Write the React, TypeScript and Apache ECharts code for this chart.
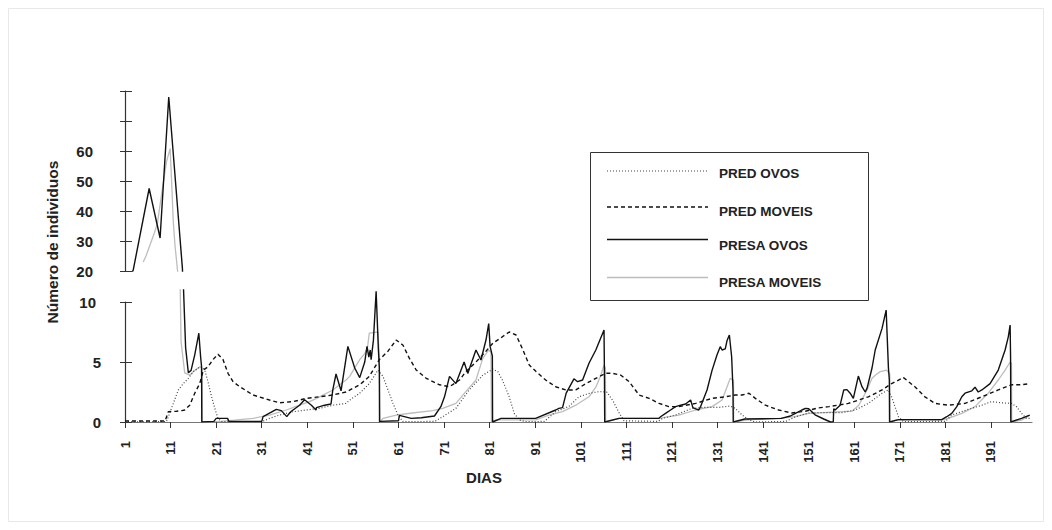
import React, { useEffect, useRef } from "react";
import * as echarts from "echarts";

// ---- data (day, value) ----
const DAYS: string[] = Array.from({ length: 200 }, (_, i) => String(i + 1));

const PRED_OVOS: number[][] = [
  [1, 0], [10.1, 0.03], [11.6, 1.55], [12.7, 2.67], [13.8, 3.2], [14.9, 3.64], [16, 4.2], [17.1, 4.5], [17.8, 4.6],
  [18.5, 4.33], [19.2, 3.36], [20, 2.1], [20.7, 1.14], [21.4, 0.3], [22.2, 0.03], [31, 0.03], [32.7, 0.3], [34.9, 0.58],
  [37.9, 0.86], [40.8, 1.0], [43.7, 1.14], [46.6, 1.4], [49.5, 1.55], [50.3, 1.83], [52.5, 2.4], [54.6, 3.2], [56.5, 4.33],
  [57.6, 3.8], [58.7, 2.67], [59.8, 1.55], [60.9, 0.58], [62, 0.03], [69, 0.05], [70.7, 0.44], [73.6, 1.14], [76.5, 2.67],
  [79.5, 3.9], [81.7, 4.4], [82.8, 4.2], [83.8, 3.5], [85.3, 2.1], [86.4, 0.72], [87.5, 0.17], [89, 0.03], [93, 0.05],
  [95.5, 0.86], [98.4, 1.3], [100.6, 2.1], [103, 2.4], [105, 2.53], [106.7, 2.5], [108, 1.8], [109.5, 0.7], [110.5, 0.1],
  [118, 0.05], [118.9, 0.3], [121.8, 0.58], [125.4, 1.14], [128.4, 1.22], [131.3, 1.22], [133.8, 1.33], [134.9, 1.14],
  [136.4, 0.58], [137.9, 0.17], [139.3, 0], [146, 0.05], [148.1, 0.44], [151, 0.75], [154.6, 0.78], [158.3, 0.78],
  [161.2, 1.0], [164.1, 1.55], [167.1, 2.4], [168.5, 2.67], [169.2, 2.1], [170.7, 0.44], [171.8, 0.03], [181, 0.05],
  [182.4, 0.58], [186, 1.05], [189, 1.4], [191.1, 1.7], [193.3, 1.6], [195.5, 1.55], [196.6, 1.28], [197.7, 0.72],
  [198.8, 0.3], [199.5, 0.3],
];

const PRED_MOVEIS: number[][] = [
  [1, 0.08], [9.8, 0.08], [10.5, 0.86], [12.3, 0.9], [13.5, 0.95], [14.1, 1.0], [15.2, 1.4], [16.3, 2.4], [17.4, 3.2],
  [18.2, 4.33], [19.2, 4.6], [20.3, 5.2], [21.4, 5.65], [22.5, 5.2], [23.6, 4.06], [24.7, 3.36], [26.2, 2.94], [29.1, 2.25],
  [32.7, 1.83], [34.9, 1.6], [37.9, 1.7], [40.8, 1.97], [43.7, 2.1], [46.6, 2.25], [49.5, 2.5], [52.5, 3.1], [54.6, 3.8],
  [56.8, 5.2], [58.7, 5.9], [60.5, 6.83], [62, 6.4], [63.4, 5.3], [64.9, 4.33], [67.1, 3.64], [70, 3.1], [72.2, 2.94],
  [74.4, 3.5], [75.8, 4.2], [78, 5.0], [80.2, 5.9], [81.7, 6.56], [83.8, 7.1], [85.3, 7.5], [86.8, 7.25], [88.2, 6.1],
  [89.7, 4.75], [91.2, 4.2], [93.3, 3.5], [95.5, 2.94], [97.7, 2.67], [99.9, 2.67], [102.1, 3.2], [104.3, 3.64],
  [106.5, 4.06], [107.9, 4.06], [109.8, 3.9], [111.6, 3.36], [113.8, 2.25], [116, 1.97], [118.2, 1.55], [120.3, 1.28],
  [122.5, 1.28], [126.2, 1.55], [129.8, 1.97], [132.7, 2.1], [134.9, 2.25], [136.4, 2.25], [137.9, 2.4], [139.3, 1.97],
  [141.5, 1.4], [144.4, 1.0], [147.3, 0.75], [150.3, 0.9], [153, 1.17], [155.4, 1.28], [159.7, 1.55], [164.1, 2.1],
  [167.1, 2.67], [169.2, 3.2], [171.8, 3.7], [174.3, 2.94], [176.5, 2.1], [178.7, 1.55], [181.6, 1.4], [185.3, 1.55],
  [189, 2.1], [192.6, 2.67], [195.5, 3.1], [197.7, 3.1], [199.5, 3.2],
];

const PRESA_OVOS: number[][] = [
  [2.5, 19.3], [2.8, 20.3], [6.3, 47.5], [8.7, 31], [10.6, 78], [13.6, 20.8], [13.8, 11.5], [14.3, 6.2], [14.9, 4.1],
  [15.5, 4.3], [16.3, 5.6], [17.2, 7.4], [17.6, 5.4], [17.8, 4.6], [17.85, 0], [20.5, 0.05], [21, 0.3], [23.5, 0.3],
  [23.8, 0.05], [31, 0.05], [31.3, 0.45], [33, 0.8], [34.2, 1.05], [35.3, 0.95], [36.5, 0.45], [36.8, 0.6], [37.5, 0.9],
  [39.3, 1.4], [40.4, 1.85], [41.9, 1.4], [42.9, 1.0], [43, 1.2], [44.8, 1.4], [46.2, 1.5], [46.6, 2.7], [47.3, 4.0],
  [48.4, 2.6], [49.9, 6.3], [51.4, 4.5], [52.5, 3.7], [53.6, 5.0], [54.1, 6.3], [54.5, 5.4], [54.8, 6.0], [55.0, 5.2],
  [55.5, 6.8], [56.1, 10.9], [56.6, 6.0], [56.8, 4.5], [56.85, 0], [57, 0.05], [61, 0.1], [61.2, 0.55], [63.8, 0.3],
  [66, 0.35], [68.9, 0.5], [70.3, 1.28], [71.1, 2.1], [72.2, 3.8], [73.6, 3.2], [75.4, 5.0], [76.2, 4.05], [78, 6.0],
  [79.1, 5.17], [80.2, 6.83], [80.8, 8.2], [81.1, 6.3], [81.6, 5.5], [81.65, 0], [83.5, 0.3], [88.2, 0.3], [91.1, 0.3],
  [95.5, 1.0], [96.2, 1.14], [97, 1.2], [97.8, 2.4], [99.5, 3.6], [100.3, 3.36], [101.4, 3.5], [102.8, 4.9], [104.3, 6.0],
  [106.1, 7.67], [106.2, 3.6], [106.25, 0], [109.4, 0.3], [118.1, 0.3], [118.5, 0.44], [119.6, 0.72], [120.7, 1.0],
  [121.8, 1.28], [122.9, 1.4], [124, 1.5], [125.1, 1.83], [125.6, 1.2], [126.2, 1.1], [126.9, 1.0], [127.3, 1.3],
  [128.7, 2.67], [129.8, 4.3], [130.9, 5.6], [131.6, 6.28], [132, 6.0], [132.7, 6.1], [133.1, 6.8], [133.6, 7.25],
  [134.1, 5.44], [134.4, 2.67], [134.45, 0], [137, 0.25], [145, 0.3], [147, 0.5], [148.1, 0.72], [149.5, 1.0],
  [150.3, 1.14], [151, 1.1], [152.4, 0.6], [154.3, 0.25], [155.8, 0], [156.4, 0.02], [156.5, 1.1], [156.8, 1.0],
  [157.9, 1.4], [158.7, 2.67], [159.4, 2.7], [160.1, 2.4], [160.8, 1.97], [161.9, 3.83], [162.7, 2.94], [163.4, 2.5],
  [163.8, 2.8], [164.9, 4.5], [165.6, 6.0], [167.1, 7.8], [168, 9.33], [168.5, 4.5], [168.7, 3.5], [168.75, 0],
  [170.7, 0.2], [180.2, 0.2], [181.3, 0.44], [182.4, 0.72], [183.5, 1.28], [184.6, 2.1], [185.3, 2.4], [186.8, 2.6],
  [187.5, 2.9], [188.2, 2.5], [189, 2.67], [190.8, 3.2], [192.6, 4.33], [194.1, 6.0], [194.8, 7.1], [195.2, 8.08],
  [195.3, 5.4], [195.35, 0], [197.7, 0.3], [199.5, 0.58],
];

const PRESA_MOVEIS: number[][] = [
  [5, 23], [5.6, 25], [6.2, 27.5], [6.8, 30], [7.4, 32.5], [8.1, 35.8], [9, 45.3], [10.1, 56.4], [10.9, 60.8],
  [11.2, 50.8], [11.6, 36.3], [12, 28], [12.3, 23.6], [13.1, 11.5], [13.3, 6.7], [14.1, 4.1], [15.2, 3.9], [16.3, 4.3],
  [17.4, 4.6], [17.9, 4.5], [17.95, 0], [22, 0.05], [25, 0.15], [29.1, 0.3], [32.7, 0.58], [36.4, 1.0], [39.3, 1.4],
  [41.5, 1.7], [43.7, 2.1], [46.6, 2.67], [49.5, 3.5], [50.3, 3.8], [52.5, 5.2], [53.6, 5.7], [54.2, 6.2], [54.6, 7.4],
  [56.5, 7.5], [56.8, 5.4], [56.95, 0], [57.6, 0.3], [60.5, 0.58], [64, 0.75], [68.5, 0.95], [70.7, 1.14], [73.6, 1.55],
  [75.5, 2.4], [78, 3.5], [79.5, 5.3], [80.8, 6.0], [81.3, 5.8], [81.4, 0], [82.4, 0.17], [91.1, 0.17], [94, 0.58],
  [97, 0.86], [99.9, 1.4], [102.8, 2.1], [104.3, 2.9], [105.4, 3.9], [106.1, 4.75], [106.4, 4.5], [106.45, 0],
  [109.4, 0.3], [118.1, 0.3], [122.5, 0.58], [126.2, 1.0], [129.8, 1.28], [132, 1.83], [133.1, 2.94], [133.8, 3.64],
  [134.5, 3.5], [134.55, 0], [138, 0.2], [144.4, 0.3], [148.1, 0.44], [151, 0.72], [158.3, 0.86], [160.5, 0.9],
  [162, 1.4], [163.8, 2.67], [164.9, 3.64], [165.6, 3.9], [166.7, 4.2], [168.1, 4.33], [168.8, 4.0], [168.85, 0],
  [170, 0.15], [180, 0.15], [181.6, 0.3], [184.6, 0.72], [187.5, 1.28], [190.4, 2.4], [192.6, 3.5], [194.1, 4.33],
  [195.2, 5.0], [195.5, 4.9], [195.55, 0], [197.7, 0.15], [199.5, 0.55],
];

const LEGEND_NAMES = ["PRED OVOS", "PRED MOVEIS", "PRESA OVOS", "PRESA MOVEIS"];
const Y_TITLE = "Número de individuos";
const X_TITLE = "DIAS";

const FONT = "Liberation Sans, Arial, sans-serif";

export default function App() {
  const ref = useRef<HTMLDivElement>(null);
  useEffect(() => {
    if (!ref.current) return;
    const chart = echarts.init(ref.current, null, { renderer: "svg" });

    const styles: Record<string, any> = {
      "PRED OVOS": { color: "#444", width: 1.2, type: [1, 2] },
      "PRED MOVEIS": { color: "#111", width: 1.4, type: [4, 3] },
      "PRESA OVOS": { color: "#111", width: 1.4, type: "solid" },
      "PRESA MOVEIS": { color: "#bdbdbd", width: 1.3, type: "solid" },
    };
    const dataOf: Record<string, number[][]> = {
      "PRED OVOS": PRED_OVOS,
      "PRED MOVEIS": PRED_MOVEIS,
      "PRESA OVOS": PRESA_OVOS,
      "PRESA MOVEIS": PRESA_MOVEIS,
    };
    const mk = (name: string, xi: number, yi: number, z: number) => ({
      name,
      type: "line",
      xAxisIndex: xi,
      yAxisIndex: yi,
      data: dataOf[name],
      symbol: "none",
      showSymbol: false,
      clip: true,
      z,
      lineStyle: styles[name],
      itemStyle: { color: styles[name].color },
    });

    const labelStyle = { fontFamily: FONT, fontWeight: "bold", fontSize: 15, color: "#222" };

    const legendRows = [171, 207, 239.5, 277.5];
    const legendTextY = [173, 211, 245, 282];
    const legendGraphics: any[] = [
      {
        type: "rect",
        shape: { x: 590.5, y: 152.5, width: 278, height: 148 },
        style: { fill: "none", stroke: "#333", lineWidth: 1 },
      },
    ];
    LEGEND_NAMES.forEach((n, i) => {
      const s = styles[n];
      legendGraphics.push({
        type: "line",
        shape: { x1: 607, y1: legendRows[i], x2: 708, y2: legendRows[i] },
        style: {
          stroke: s.color,
          lineWidth: s.width,
          lineDash: Array.isArray(s.type) ? s.type : null,
        },
      });
      legendGraphics.push({
        type: "text",
        x: 719,
        y: legendTextY[i],
        style: {
          text: n,
          font: `bold 13.5px ${FONT}`,
          fill: "#222",
          align: "left",
          verticalAlign: "middle",
          textAlign: "left",
          textVerticalAlign: "middle",
        },
      });
    });

    const option: any = {
      animation: false,
      backgroundColor: "#fff",
      grid: [
        { left: 125, top: 91, width: 907, height: 180 },
        { left: 125, top: 290, width: 907, height: 132 },
        { left: 125, top: 302, width: 907, height: 120 },
      ],
      xAxis: [
        { gridIndex: 0, type: "value", min: 1, max: 200, show: false },
        { gridIndex: 1, type: "value", min: 1, max: 200, show: false },
        {
          gridIndex: 2,
          type: "category",
          data: DAYS,
          boundaryGap: false,
          axisLine: { lineStyle: { color: "#777", width: 1.2 } },
          axisTick: { interval: 9, length: 6, lineStyle: { color: "#333" } },
          axisLabel: { ...labelStyle, fontSize: 13, interval: 9, rotate: 90, margin: 19 },
          splitLine: { show: false },
        },
      ],
      yAxis: [
        {
          gridIndex: 0,
          type: "value",
          min: 20,
          max: 80,
          interval: 10,
          axisLine: { show: true, lineStyle: { color: "#333", width: 1.2 } },
          axisTick: { show: true, length: 5, lineStyle: { color: "#333" } },
          axisLabel: { ...labelStyle, margin: 32, formatter: (v: number) => (v <= 60 ? String(v) : "") },
          splitLine: { show: false },
        },
        {
          gridIndex: 0,
          type: "value",
          min: 20,
          max: 80,
          interval: 10,
          position: "left",
          axisLine: { show: false },
          axisTick: { show: true, inside: true, length: 7, lineStyle: { color: "#333" } },
          axisLabel: { show: false },
          splitLine: { show: false },
        },
        { gridIndex: 1, type: "value", min: 0, max: 11, show: false, splitLine: { show: false } },
        {
          gridIndex: 2,
          type: "value",
          min: 0,
          max: 10,
          interval: 5,
          axisLine: { show: true, lineStyle: { color: "#333", width: 1.2 } },
          axisTick: { show: true, length: 5, lineStyle: { color: "#333" } },
          axisLabel: {
            ...labelStyle,
            margin: 24,
            formatter: (v: number) => (v === 10 ? "{t|10}" : String(v)),
            rich: { t: { ...labelStyle, padding: [0, 5, 0, 0] } },
          },
          splitLine: { show: false },
        },
        {
          gridIndex: 2,
          type: "value",
          min: 0,
          max: 10,
          interval: 5,
          position: "left",
          axisLine: { show: false },
          axisTick: { show: true, inside: true, length: 7, lineStyle: { color: "#333" } },
          axisLabel: { show: false },
          splitLine: { show: false },
        },
      ],
      series: [
        mk("PRESA MOVEIS", 0, 0, 2),
        mk("PRESA OVOS", 0, 0, 5),
        mk("PRESA MOVEIS", 1, 2, 2),
        mk("PRED OVOS", 1, 2, 3),
        mk("PRED MOVEIS", 1, 2, 4),
        mk("PRESA OVOS", 1, 2, 5),
      ],
      graphic: [
        {
          type: "rect",
          shape: { x: 8.5, y: 8.5, width: 1035, height: 513 },
          style: { fill: "none", stroke: "#e8e8e8", lineWidth: 1 },
          silent: true,
        },
        {
          type: "text",
          x: 52,
          y: 242,
          rotation: Math.PI / 2,
          style: {
            text: Y_TITLE,
            font: `bold 15.5px ${FONT}`,
            fill: "#222",
            align: "center",
            verticalAlign: "middle",
            textAlign: "center",
            textVerticalAlign: "middle",
          },
        },
        {
          type: "text",
          x: 484,
          y: 477,
          style: {
            text: X_TITLE,
            font: `bold 15px ${FONT}`,
            fill: "#222",
            align: "center",
            verticalAlign: "middle",
            textAlign: "center",
            textVerticalAlign: "middle",
          },
        },
        ...legendGraphics,
      ],
    };
    chart.setOption(option);
    return () => chart.dispose();
  }, []);
  return (
    <div
      ref={ref}
      style={{ position: "fixed", left: 0, top: 0, width: 1052, height: 530, background: "#fff" }}
    />
  );
}
